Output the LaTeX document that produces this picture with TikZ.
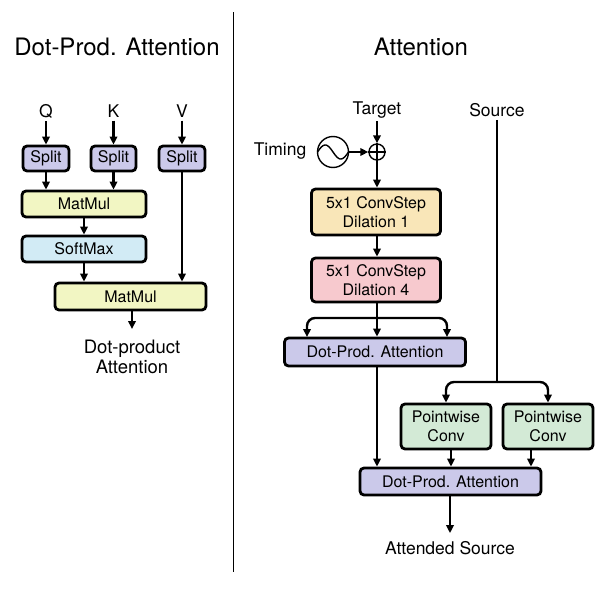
\documentclass[tikz,border=0pt]{standalone}
\usepackage{fontspec}
\setmainfont{TeX Gyre Heros}
\usetikzlibrary{arrows.meta}
\definecolor{cSplit}{HTML}{CBC9EA}
\definecolor{cMat}{HTML}{F2F6C3}
\definecolor{cSoft}{HTML}{D2EBF5}
\definecolor{cConvA}{HTML}{F9E6B8}
\definecolor{cConvB}{HTML}{F7C9CE}
\definecolor{cPw}{HTML}{D3EAD6}
\tikzset{
  box/.style={draw=black, line width=2.8pt, rounded corners=4pt, inner sep=0pt, align=center,
    font=\fontsize{16}{19}\selectfont},
  lbl/.style={inner sep=0pt, align=center, font=\fontsize{17.5}{20}\selectfont},
  ttl/.style={inner sep=0pt, font=\fontsize{24}{26}\selectfont},
  arr/.style={line width=2.4pt, -{Triangle[length=8pt,width=7.5pt]}},
  ln/.style={line width=2.4pt},
}
\begin{document}
\begin{tikzpicture}[x=1pt,y=-1pt]
\useasboundingbox (0,0) rectangle (603,589);
\draw[line width=1pt] (233,12) coordinate (dt) -- (233,572) coordinate (db);
\node[ttl] (t1) at (117,47) {Dot-Prod. Attention};
\node[ttl] (t2) at (421,47) {Attention};
% left panel
\node[lbl] (q) at (46,111) {Q};
\node[lbl] (k) at (113.5,111) {K};
\node[lbl] (v) at (182,111) {V};
\node[box, fill=cSplit, minimum width=46, minimum height=25] (sq) at (46,158.5) {Split};
\node[box, fill=cSplit, minimum width=45, minimum height=25] (sk) at (113.5,158.5) {Split};
\node[box, fill=cSplit, minimum width=46, minimum height=25] (sv) at (182,158.5) {Split};
\node[box, fill=cMat, minimum width=124, minimum height=26] (mm1) at (84,204) {MatMul};
\node[box, fill=cSoft, minimum width=124, minimum height=26] (sm) at (84,249) {SoftMax};
\node[box, fill=cMat, minimum width=151, minimum height=27] (mm2) at (130.5,296.5) {MatMul};
\node[lbl, font=\fontsize{18.5}{20}\selectfont] (dpo) at (132,357) {Dot-product\\Attention};
\draw[arr] (q.south) ++(0,3) -- (sq.north);
\draw[arr] (k.south) ++(0,3) -- (sk.north);
\draw[arr] (v.south) ++(0,3) -- (sv.north);
\draw[arr] (sq.south) -- (sq.south |- mm1.north);
\draw[arr] (sk.south) -- (sk.south |- mm1.north);
\draw[arr] (mm1.south) -- (sm.north);
\draw[arr] (sm.south) -- (sm.south |- mm2.north);
\draw[arr] (sv.south) -- (sv.south |- mm2.north);
\draw[arr] (mm2.south -| 132,0) -- (132,329) coordinate (dpe);
% right panel
\node[lbl] (tg) at (377,110) {Target};
\node[lbl] (src) at (497,110) {Source};
\node[lbl] (tim) at (280,151) {Timing};
\node[draw, line width=1.4pt, circle, minimum size=31, inner sep=0] (sine) at (333,152) {};
\draw[line width=1.4pt, domain=-15.5:15.5, samples=50, smooth] plot ({333+\x}, {152 - 7*sin(180*(\x+15.5)/15.5)});
\node[draw, line width=1.4pt, circle, minimum size=16, inner sep=0] (pl) at (377,152) {};
\draw[line width=1.4pt] (pl.north) -- (pl.south) (pl.west) -- (pl.east);
\node[box, fill=cConvA, minimum width=129, minimum height=46] (c1) at (376,212) {5x1 ConvStep\\Dilation 1};
\node[box, fill=cConvB, minimum width=129, minimum height=44] (c2) at (376,280) {5x1 ConvStep\\Dilation 4};
\node[box, fill=cSplit, minimum width=181, minimum height=28] (dp1) at (375,352) {Dot-Prod. Attention};
\node[box, fill=cPw, minimum width=90, minimum height=45] (pw1) at (446,426.5) {Pointwise\\Conv};
\node[box, fill=cPw, minimum width=90, minimum height=45] (pw2) at (548,426.5) {Pointwise\\Conv};
\node[box, fill=cSplit, minimum width=181, minimum height=27] (dp2) at (450.5,481.5) {Dot-Prod. Attention};
\node[lbl] (att) at (450,548) {Attended Source};
\draw[arr] (tg.south -| pl.north) ++(0,3) -- (pl.north);
\draw[arr] (sine.east) -- (pl.west);
\draw[arr] (pl.south) -- (pl.south |- c1.north);
\draw[arr] (c1.south -| pl.south) -- (pl.south |- c2.north);
\coordinate (b1) at (377,318);
\coordinate (bl) at (307,337);
\coordinate (br) at (447,337);
\draw[arr] (c2.south -| b1) -- (b1 |- dp1.north);
\draw[arr, rounded corners=8pt] (b1) -| (bl);
\draw[arr, rounded corners=8pt] (b1) -| (br);
\draw[arr] (dp1.south -| b1) -- (b1 |- dp2.north);
\coordinate (s1) at (497,382);
\draw[ln] (src.south) ++(0,3) -- (s1);
\draw[arr, rounded corners=8pt] (s1) -| (pw1.north);
\draw[arr, rounded corners=8pt] (s1) -| (pw2.north);
\draw[arr] (pw1.south -| 451,0) -- (451,0 |- dp2.north);
\draw[arr] (pw2.south -| 531,0) -- (531,0 |- dp2.north);
\draw[arr] (dp2.south -| att.north) -- ([yshift=8pt]att.north);
\end{tikzpicture}
\end{document}
